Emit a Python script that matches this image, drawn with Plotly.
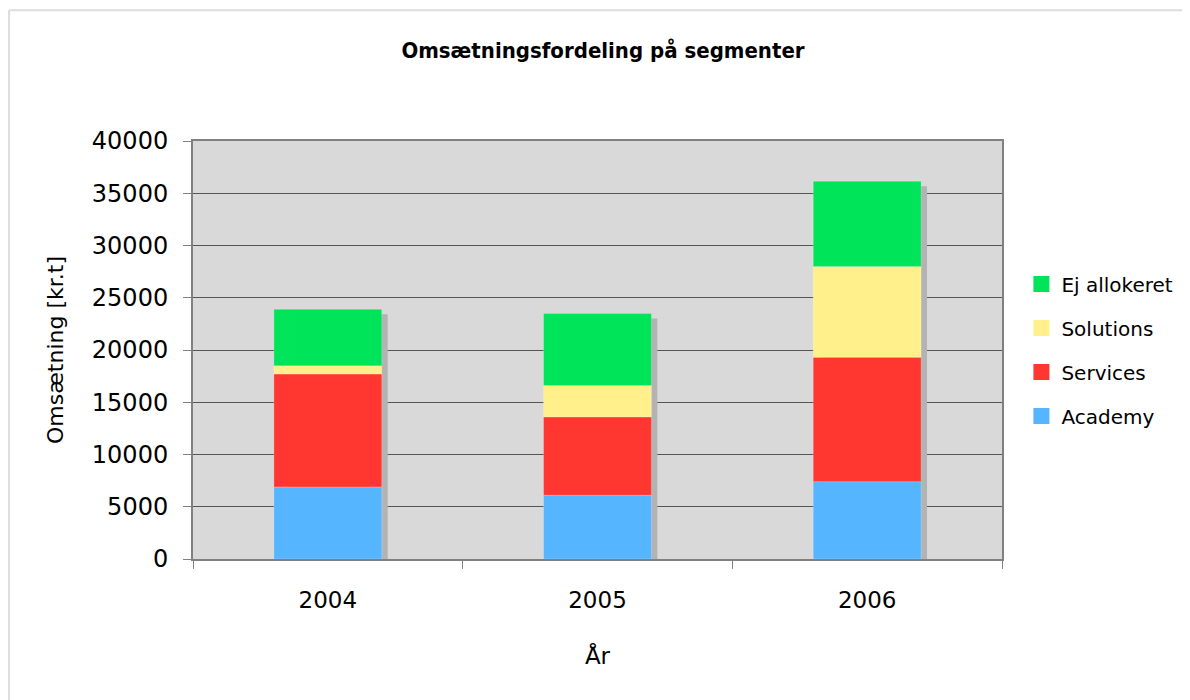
"""Omsætningsfordeling på segmenter - stacked revenue per segment."""

import plotly.graph_objects as go

years = ["2004", "2005", "2006"]
academy = [6900, 6100, 7400]
services = [10800, 7500, 11900]
solutions = [800, 3000, 8700]
ej_allokeret = [5400, 6900, 8150]

segments = [
    ("Academy", academy, "#55B5FF"),
    ("Services", services, "#FF3730"),
    ("Solutions", solutions, "#FFF08C"),
    ("Ej allokeret", ej_allokeret, "#00E45A"),
]

FONT = "DejaVu Sans"
BAR_W = 0.4
SHADOW_DX = 0.022   # category units (~6px)
SHADOW_DROP = 480   # data units (~5px)

fig = go.Figure()

totals = [sum(v) for v in zip(academy, services, solutions, ej_allokeret)]
fig.add_trace(
    go.Bar(
        x=years,
        y=[t - SHADOW_DROP for t in totals],
        base=[0] * len(years),
        width=BAR_W,
        offset=-BAR_W / 2 + SHADOW_DX,
        marker=dict(color="#B3B3B3", line=dict(width=0)),
        showlegend=False,
        hoverinfo="skip",
    )
)

base = [0] * len(years)
for name, vals, color in segments:
    fig.add_trace(
        go.Bar(
            x=years,
            y=vals,
            base=list(base),
            width=BAR_W,
            offset=-BAR_W / 2,
            name=name,
            legendgroup=name,
            showlegend=False,
            marker=dict(color=color, line=dict(width=0.6, color="rgba(255,255,255,0.35)")),
        )
    )
    base = [b + v for b, v in zip(base, vals)]

# legend-only entries (top segment first) so the swatches can be larger squares
for name, _, color in reversed(segments):
    fig.add_trace(
        go.Scatter(
            x=[None],
            y=[None],
            mode="markers",
            name=name,
            legendgroup=name,
            marker=dict(symbol="square", size=21, color=color),
        )
    )

# page body adds an 8px offset, so margins are trimmed to compensate
fig.update_layout(
    width=1190,
    height=700,
    barmode="overlay",
    paper_bgcolor="white",
    plot_bgcolor="#D9D9D9",
    margin=dict(l=185, r=196, t=133, b=149),
    font=dict(family=FONT, color="black"),
    title=dict(
        text="<b>Omsætningsfordeling på segmenter</b>",
        x=0.5,
        xanchor="center",
        y=0.94,
        yanchor="middle",
        font=dict(family="DejaVu Sans Condensed, DejaVu Sans", size=22),
    ),
    legend=dict(
        x=1.024,
        y=0.5,
        xanchor="left",
        yanchor="middle",
        traceorder="grouped",
        font=dict(size=20),
        itemwidth=30,
        tracegroupgap=15,
        bgcolor="rgba(0,0,0,0)",
    ),
    showlegend=True,
    shapes=[
        dict(type="line", xref="paper", yref="paper", x0=-0.2274, x1=1.3,
             y0=1.313, y1=1.313, line=dict(color="#DDDDDD", width=2)),
        dict(type="line", xref="paper", yref="paper", x0=-0.2274, x1=-0.2274,
             y0=1.313, y1=-0.4, line=dict(color="#DDDDDD", width=2)),
    ],
)

fig.update_xaxes(
    title=dict(text="År", font=dict(size=23), standoff=36),
    tickfont=dict(size=23),
    ticklabelstandoff=19,
    tickson="boundaries",
    ticks="outside",
    ticklen=8,
    tickcolor="#808080",
    showline=True,
    linecolor="#808080",
    linewidth=2,
    mirror=True,
    showgrid=False,
    range=[-0.5, 2.5],
)

fig.update_yaxes(
    title=dict(text="Omsætning [kr.t]", font=dict(size=22), standoff=22),
    tickfont=dict(size=24),
    ticklabelstandoff=10,
    range=[0, 40000],
    dtick=5000,
    tickformat="d",
    ticks="outside",
    ticklen=8,
    tickcolor="#808080",
    showline=True,
    linecolor="#808080",
    linewidth=2,
    mirror=True,
    showgrid=True,
    gridcolor="#555555",
    gridwidth=1,
    zeroline=False,
)

fig.write_html("out.html")
